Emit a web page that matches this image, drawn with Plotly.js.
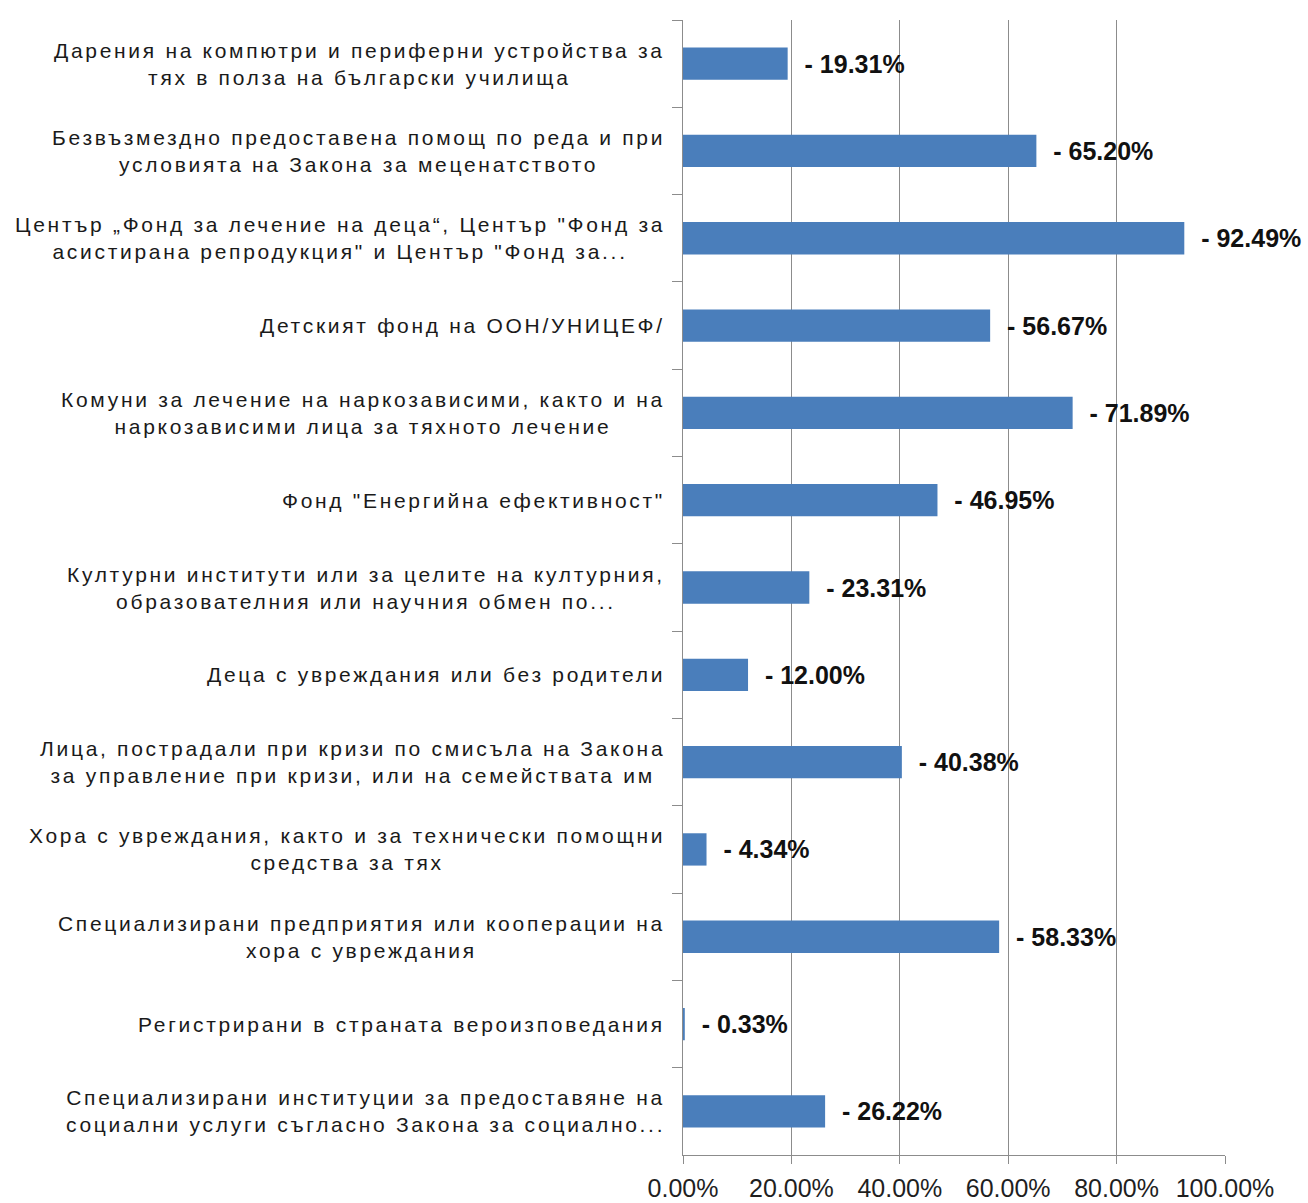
<!DOCTYPE html>
<html>
<head>
<meta charset="utf-8">
<script src="https://cdn.plot.ly/plotly-3.0.1.min.js"></script>
<style>
  html, body { margin: 0; padding: 0; background: #ffffff; }
  #chart { width: 1308px; height: 1203px; }
  .annotation-text { letter-spacing: 2.7px; }
</style>
</head>
<body>
<div id="chart"></div>
<script>
const categories = [
  "Дарения на компютри и периферни устройства за<br>тях в полза на български училища",
  "Безвъзмездно предоставена помощ по реда и при<br>условията на Закона за меценатството",
  "Център „Фонд за лечение на деца“, Център \"Фонд за<br>асистирана репродукция\" и Център \"Фонд за...",
  "Детският фонд на ООН/УНИЦЕФ/",
  "Комуни за лечение на наркозависими, както и на<br>наркозависими лица за тяхното лечение",
  "Фонд \"Енергийна ефективност\"",
  "Културни институти или за целите на културния,<br>образователния или научния обмен по...",
  "Деца с увреждания или без родители",
  "Лица, пострадали при кризи по смисъла на Закона<br>за управление при кризи, или на семействата им",
  "Хора с увреждания, както и за технически помощни<br>средства за тях",
  "Специализирани предприятия или кооперации на<br>хора с увреждания",
  "Регистрирани в страната вероизповедания",
  "Специализирани институции за предоставяне на<br>социални услуги съгласно Закона за социално..."
];
const values = [0.1931, 0.6520, 0.9249, 0.5667, 0.7189, 0.4695, 0.2331, 0.1200, 0.4038, 0.0434, 0.5833, 0.0033, 0.2622];
const xTickVals = [0, 0.2, 0.4, 0.6, 0.8, 1.0];

const barLabels = values.map(v => "\u00a0\u00a0- " + (v * 100).toFixed(2) + "%");

const trace = {
  type: "bar",
  orientation: "h",
  x: values,
  y: categories,
  marker: { color: "#4a7ebb", line: { width: 0 } },
  text: barLabels,
  textposition: "outside",
  cliponaxis: false,
  constraintext: "none",
  textfont: { family: "Liberation Sans, Arial, sans-serif", size: 25, color: "#111111", weight: "bold" },
  hoverinfo: "none"
};

const annotations = categories.map(c => ({
  xref: "paper", x: 0, xanchor: "right", xshift: -16,
  yref: "y", y: c, yanchor: "middle",
  text: c, align: "center", showarrow: false,
  font: { family: "Liberation Sans, Arial, sans-serif", size: 21, color: "#1a1a1a" }
}));

const layout = {
  width: 1308, height: 1203,
  margin: { l: 683, r: 83, t: 20, b: 48 },
  paper_bgcolor: "#ffffff", plot_bgcolor: "#ffffff",
  showlegend: false,
  bargap: 0.63,
  xaxis: {
    range: [0, 1],
    tickvals: xTickVals,
    tickformat: ".2%",
    showgrid: true, gridcolor: "#8c8c8c", gridwidth: 1,
    zeroline: false,
    showline: true, linecolor: "#8c8c8c", linewidth: 1,
    ticks: "outside", ticklen: 8, tickcolor: "#8c8c8c",
    ticklabelstandoff: 3,
    tickfont: { family: "Liberation Sans, Arial, sans-serif", size: 25, color: "#1f1f1f" }
  },
  yaxis: {
    type: "category",
    autorange: "reversed",
    showticklabels: false,
    ticks: "outside", tickson: "boundaries", ticklen: 10, tickcolor: "#8c8c8c",
    showline: true, linecolor: "#8c8c8c", linewidth: 1,
    showgrid: false, zeroline: false
  },
  annotations: annotations
};

Plotly.newPlot("chart", [trace], layout, { displayModeBar: false, staticPlot: true });
</script>
</body>
</html>
